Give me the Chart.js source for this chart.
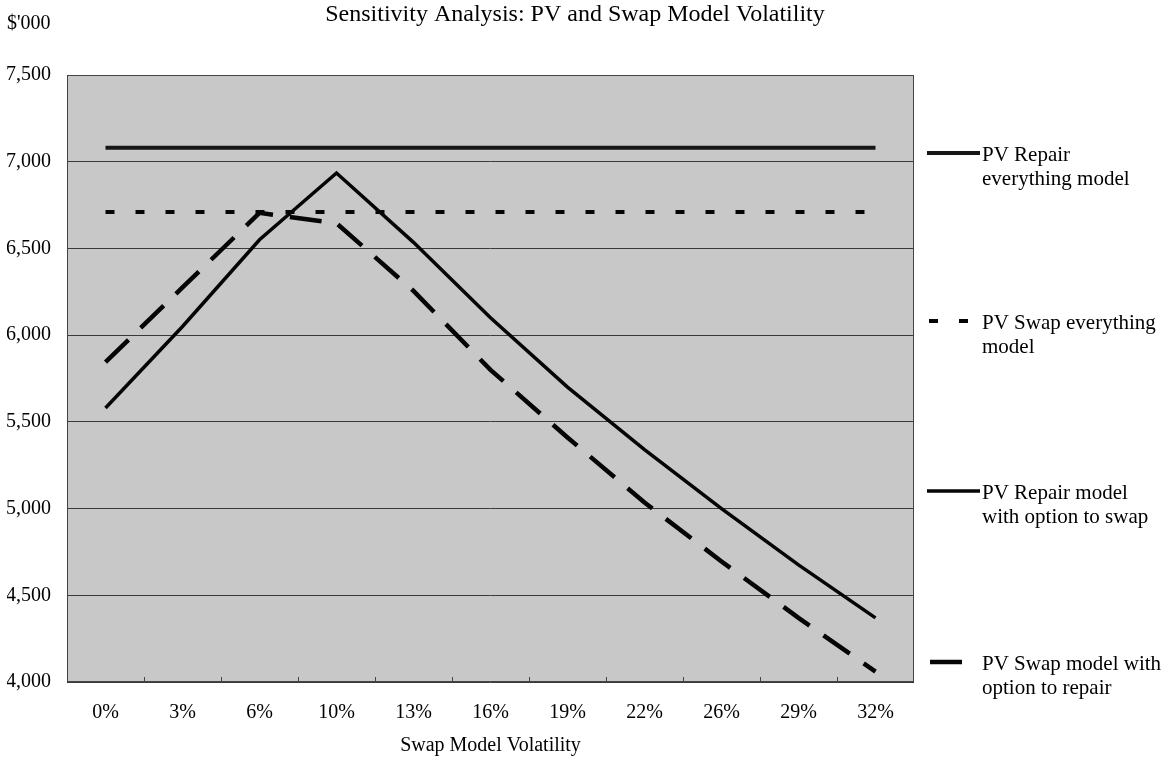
<!DOCTYPE html>
<html>
<head>
<meta charset="utf-8">
<script src="https://cdn.jsdelivr.net/npm/chart.js@4.4.0/dist/chart.umd.min.js"></script>
<style>
  body { margin: 0; background: #fff; }
  #wrap { width: 1164px; height: 760px; }
</style>
</head>
<body>
<div id="wrap"><canvas id="chart" width="1164" height="760"></canvas></div>
<script>
const volatility = ['0%', '3%', '6%', '10%', '13%', '16%', '19%', '22%', '26%', '29%', '32%'];
const repairEverything = [7080, 7080, 7080, 7080, 7080, 7080, 7080, 7080, 7080, 7080, 7080];
const swapEverything = [6710, 6710, 6710, 6710, 6710, 6710, 6710, 6710, 6710, 6710, 6710];
const repairWithSwap = [5580, 6050, 6550, 6935, 6535, 6100, 5700, 5340, 5000, 4675, 4370];
const swapWithRepair = [5845, 6275, 6705, 6645, 6255, 5800, 5410, 5035, 4695, 4370, 4060];
const yMin = 4000;
const yMax = 7500;
const yStep = 500;
const legendText = [
    ['PV Repair', 'everything model'],
    ['PV Swap everything', 'model'],
    ['PV Repair model', 'with option to swap'],
    ['PV Swap model with', 'option to repair']
];

const serif = "'Liberation Serif', 'Times New Roman', serif";
Chart.defaults.font.family = serif;
Chart.defaults.color = '#000';

// grey plot area, frame and the small inside ticks on the x axis
const plotFrame = {
    id: 'plotFrame',
    beforeDraw(chart) {
        const { ctx, chartArea: a } = chart;
        ctx.save();
        ctx.fillStyle = '#c8c8c8';
        ctx.fillRect(a.left, a.top, a.right - a.left, a.bottom - a.top);
        ctx.restore();
    },
    beforeDatasetsDraw(chart) {
        const { ctx, chartArea: a } = chart;
        const x = chart.scales.x;
        ctx.save();
        ctx.strokeStyle = '#444';
        ctx.lineWidth = 1;
        ctx.strokeRect(a.left + 0.5, a.top + 0.5, a.right - a.left - 1, a.bottom - a.top - 1);
        ctx.beginPath();
        for (let i = 1; i < volatility.length; i++) {
            const px = Math.round((x.getPixelForValue(i - 1) + x.getPixelForValue(i)) / 2) + 0.5;
            ctx.moveTo(px, a.bottom);
            ctx.lineTo(px, a.bottom - 5);
        }
        ctx.stroke();
        ctx.restore();
    }
};

// title, unit label and the legend on the right
const sideText = {
    id: 'sideText',
    afterDraw(chart) {
        const { ctx } = chart;
        ctx.save();
        ctx.fillStyle = '#000';
        ctx.textBaseline = 'alphabetic';
        ctx.font = '24px ' + serif;
        ctx.textAlign = 'center';
        ctx.fillText('Sensitivity Analysis: PV and Swap Model Volatility', 575, 21);
        ctx.font = '20px ' + serif;
        ctx.textAlign = 'left';
        ctx.fillText("$'000", 7, 29);

        const rows = [153, 321, 491, 662];
        const sample = [[927, 980, 0], [927, 980, 28], [927, 980, 0], [930, 963, 0]];
        chart.data.datasets.forEach((ds, i) => {
            const y = rows[i];
            ctx.beginPath();
            ctx.strokeStyle = ds.borderColor;
            ctx.lineWidth = ds.borderWidth;
            ctx.setLineDash(ds.borderDash || []);
            ctx.lineDashOffset = sample[i][2];
            ctx.moveTo(sample[i][0], y);
            ctx.lineTo(sample[i][1], y);
            ctx.stroke();
            ctx.setLineDash([]);
            ctx.font = '21px ' + serif;
            legendText[i].forEach((t, j) => {
                ctx.fillText(t, 982, y + 8 + j * 24);
            });
        });
        ctx.restore();
    }
};

new Chart(document.getElementById('chart'), {
    type: 'line',
    data: {
        labels: volatility,
        datasets: [
            {
                label: 'PV Repair everything model',
                data: repairEverything,
                borderColor: '#161616',
                borderWidth: 4
            },
            {
                label: 'PV Swap everything model',
                data: swapEverything,
                borderColor: '#050505',
                borderWidth: 4,
                borderDash: [9, 21]
            },
            {
                label: 'PV Repair model with option to swap',
                data: repairWithSwap,
                borderColor: '#050505',
                borderWidth: 3.5
            },
            {
                label: 'PV Swap model with option to repair',
                data: swapWithRepair,
                borderColor: '#050505',
                borderWidth: 4.5,
                borderDash: [32, 17]
            }
        ]
    },
    options: {
        responsive: false,
        animation: false,
        layout: { padding: { top: 75, left: 7, right: 250, bottom: 0 } },
        elements: {
            point: { radius: 0 },
            line: { tension: 0, fill: false, borderCapStyle: 'butt', borderJoinStyle: 'miter' }
        },
        plugins: {
            legend: { display: false },
            tooltip: { enabled: false }
        },
        scales: {
            x: {
                offset: true,
                grid: { display: false, drawTicks: false, offset: true },
                border: { display: false },
                ticks: { font: { size: 20 }, padding: 19, maxRotation: 0, autoSkip: false },
                title: {
                    display: true,
                    text: 'Swap Model Volatility',
                    font: { size: 20 },
                    padding: { top: 0, bottom: 2 }
                },
                afterFit(scale) { scale.height = 78; }
            },
            y: {
                min: yMin,
                max: yMax,
                grid: { color: '#3a3a3a', lineWidth: 1, drawTicks: false },
                border: { display: false },
                ticks: {
                    stepSize: yStep,
                    font: { size: 20 },
                    padding: 16,
                    callback: v => v.toLocaleString('en-US')
                },
                afterFit(scale) { scale.width = 60; }
            }
        }
    },
    plugins: [plotFrame, sideText]
});
</script>
</body>
</html>
